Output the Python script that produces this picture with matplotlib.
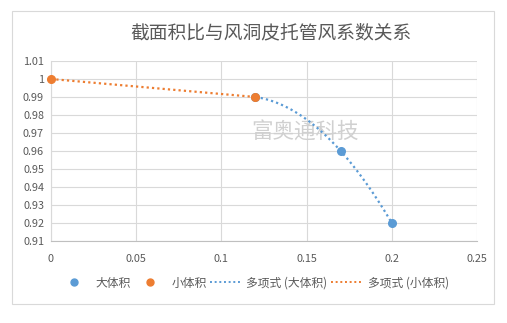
import matplotlib
matplotlib.use("Agg")
import matplotlib.pyplot as plt
from matplotlib.patches import Rectangle
from matplotlib.lines import Line2D
import numpy as np

plt.rcParams['font.family'] = ['Noto Sans CJK SC', 'DejaVu Sans']

# 截面积比 vs 风系数
big_x = [0.12, 0.17, 0.2]
big_y = [0.99, 0.96, 0.92]
small_x = [0, 0.12]
small_y = [1.0, 0.99]

x_ticks = [0, 0.05, 0.1, 0.15, 0.2, 0.25]
y_ticks = [0.91, 0.92, 0.93, 0.94, 0.95, 0.96, 0.97, 0.98, 0.99, 1.0, 1.01]

BLUE = '#5B9BD5'
ORANGE = '#ED7D31'
GRAY = '#595959'
GRID = '#D9D9D9'

W, H = 507, 323
fig = plt.figure(figsize=(W / 100, H / 100), dpi=100)
fig.patch.set_facecolor('white')

# chart border
fig.patches.append(Rectangle((12 / W, 1 - 304 / H), (494 - 12) / W, (304 - 11) / H,
                             transform=fig.transFigure, fill=False,
                             edgecolor=GRID, linewidth=0.8))

ax = fig.add_axes([51 / W, 1 - 241 / H, (477 - 51) / W, (241 - 61) / H])


def trend(xs, ys):
    # polynomial trendline (order 2, or lower if too few points)
    deg = min(2, len(xs) - 1)
    c = np.polyfit(xs, ys, deg)
    t = np.linspace(min(xs), max(xs), 100)
    return t, np.polyval(c, t)


tx, ty = trend(big_x, big_y)
ax.plot(tx, ty, color=BLUE, linestyle=(0, (1, 1.4)), linewidth=1.6, zorder=3)
tx, ty = trend(small_x, small_y)
ax.plot(tx, ty, color=ORANGE, linestyle=(0, (1, 1.4)), linewidth=1.6, zorder=3)

ax.plot(big_x, big_y, 'o', color=BLUE, markersize=5.5, zorder=4, clip_on=False)
ax.plot(small_x, small_y, 'o', color=ORANGE, markersize=5.5, zorder=4, clip_on=False)

ax.set_xlim(0, 0.25)
ax.set_ylim(0.91, 1.01)
ax.set_xticks(x_ticks)
ax.set_xticklabels(['0', '0.05', '0.1', '0.15', '0.2', '0.25'])
ax.set_yticks(y_ticks)
ax.set_yticklabels(['0.91', '0.92', '0.93', '0.94', '0.95', '0.96', '0.97',
                    '0.98', '0.99', '1', '1.01'])
ax.tick_params(length=0, labelsize=7.8, labelcolor=GRAY, pad=5)
ax.tick_params(axis='x', pad=9)
ax.grid(True, color=GRID, linewidth=0.8)
ax.set_axisbelow(True)
for s in ['top', 'right']:
    ax.spines[s].set_visible(False)
ax.spines['left'].set_color(GRID)
ax.spines['bottom'].set_color('#BFBFBF')

fig.text(271 / W, 1 - 33 / H, '截面积比与风洞皮托管风系数关系', ha='center', va='center',
         fontsize=13.5, color=GRAY)

ax.text(305 / W, 1 - 133 / H, '富奥通科技', transform=fig.transFigure,
        ha='center', va='center', fontsize=15.5, color='#D0D0D0', zorder=2)

handles = [
    Line2D([], [], linestyle='none', marker='o', color=BLUE, markersize=5),
    Line2D([], [], linestyle='none', marker='o', color=ORANGE, markersize=5),
    Line2D([], [], color=BLUE, linestyle=(0, (1, 1.4)), linewidth=1.4),
    Line2D([], [], color=ORANGE, linestyle=(0, (1, 1.4)), linewidth=1.4),
]
labels = ['大体积', '小体积', '多项式 (大体积)', '多项式 (小体积)']
fig.legend(handles, labels, loc='center', bbox_to_anchor=(254 / W, 1 - 283 / H),
           ncol=4, frameon=False, fontsize=8.5, labelcolor=GRAY,
           handlelength=2.6, handletextpad=0.5, columnspacing=0.3)

fig.savefig('out.png', dpi=100)
